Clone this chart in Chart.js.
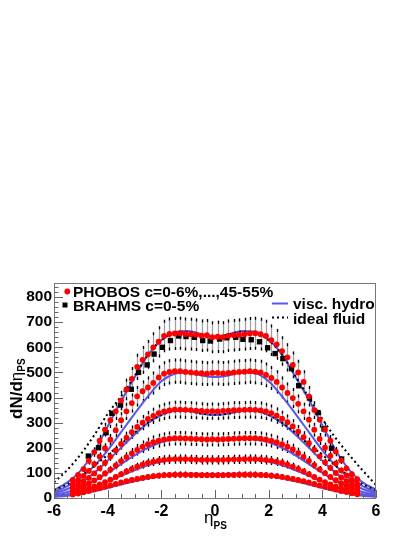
<!DOCTYPE html>
<html>
<head>
<meta charset="utf-8">
<script src="https://cdn.jsdelivr.net/npm/chart.js@4/dist/chart.umd.min.js"></script>
<style>
  html, body { margin: 0; padding: 0; background: #fff; }
  canvas { display: block; }
</style>
</head>
<body>
<canvas id="chart" width="415" height="537"></canvas>
<script>
// PHOBOS pseudorapidity bins
const etaPhobos = [-5.3,-5.1,-4.9,-4.7,-4.5,-4.3,-4.1,-3.9,-3.7,-3.5,-3.3,-3.1,-2.9,-2.7,-2.5,-2.3,-2.1,-1.9,-1.7,-1.5,-1.3,-1.1,-0.9,-0.7,-0.5,-0.3,-0.1,
                   0.1,0.3,0.5,0.7,0.9,1.1,1.3,1.5,1.7,1.9,2.1,2.3,2.5,2.7,2.9,3.1,3.3,3.5,3.7,3.9,4.1,4.3,4.5,4.7,4.9,5.1,5.3];

const phobos0_6 = [72,92,115,148,183,228,272,310,345,388,432,474,522,550,572,600,622,645,653,655,656,653,652,650,646,648,640,
                   642,640,646,648,650,652,655,656,652,645,628,612,585,560,530,500,462,405,350,312,272,228,185,150,118,95,75];
const phobos6_15 = [56,70,88,108,135,165,198,232,270,310,345,378,405,425,440,458,480,495,502,505,505,502,500,498,497,495,498,
                    498,496,498,500,502,503,505,503,500,490,478,462,440,418,398,375,345,312,272,235,200,168,138,110,90,72,57];
const phobos15_25 = [43,53,66,80,98,118,140,165,190,215,240,262,283,300,315,327,338,345,349,352,352,351,350,348,347,345,346,
                     345,347,348,350,350,351,352,351,349,345,338,328,316,302,285,264,242,218,192,166,142,120,100,82,67,54,44];
const phobos25_35 = [32,39,48,58,70,83,98,113,130,147,163,178,192,204,214,222,228,233,236,238,238,237,236,235,234,233,234,
                     233,234,235,236,237,238,238,238,236,233,228,222,214,204,193,179,164,148,131,114,99,84,71,59,49,40,33];
const phobos35_45 = [21,26,32,39,46,54,63,73,84,95,106,116,125,133,140,145,149,152,154,155,155,155,154,153,152,152,152,
                     152,152,153,154,154,155,155,155,154,152,149,145,140,133,125,116,106,95,84,73,63,54,46,39,32,26,21];
const phobos45_55 = [14,18,23,28,34,39,45,50,56,62,67,72,76,80,84,87,89,91,92,93,93,93,92,92,91,91,91,
                     91,91,92,92,93,93,93,93,92,91,89,87,84,80,76,72,67,62,56,50,45,39,34,28,24,19,15];
// relative systematic error of each centrality class
const phobosErr = [0.10, 0.10, 0.10, 0.12, 0.12, 0.13];

// BRAHMS 0-5%
const etaBrahms = [-4.72,-4.34,-4.06,-3.84,-3.52,-3.12,-2.85,-2.53,-2.27,-1.96,-1.66,-1.35,-1.08,-0.77,-0.46,-0.17,
                   0.17,0.44,0.77,1.04,1.35,1.66,1.96,2.24,2.53,2.85,3.12,3.52,3.84,4.06,4.34,4.72];
const brahms0_5 = [167,200,260,337,370,433,500,530,573,600,627,645,643,640,627,625,
                   633,638,640,632,630,622,598,575,555,515,447,398,340,275,198,155];

// hydro curves
const etaModel = [-6,-5.5,-5,-4.5,-4,-3.5,-3,-2.5,-2,-1.5,-1,-0.5,0,0.5,1,1.5,2,2.5,3,3.5,4,4.5,5,5.5,6];
const visc0_6   = [32,62,110,185,285,385,480,570,628,660,665,652,642,652,665,662,630,572,482,390,290,190,112,62,33];
const visc6_15  = [25,47,80,128,190,262,335,405,465,495,500,488,482,488,500,497,465,405,335,262,190,128,80,47,25];
const visc15_25 = [18,36,62,100,148,200,252,298,330,346,346,335,330,335,346,346,330,298,252,200,148,100,62,36,18];
const visc25_35 = [12,24,42,68,100,135,170,200,222,233,235,232,230,232,235,233,222,200,170,135,100,68,42,24,12];
const visc35_45 = [7,15,27,44,65,88,110,130,144,152,155,153,152,153,155,152,144,130,110,88,65,44,27,15,7];
const visc45_55 = [4,9,17,27,40,54,67,79,89,95,97,96,95,96,97,95,89,79,67,54,40,27,17,9,4];
const ideal0_6   = [62,112,175,250,335,405,485,570,628,658,662,650,640,650,662,658,628,570,485,400,315,238,172,110,52];
const ideal15_25 = [32,55,88,128,172,215,260,300,330,345,346,336,332,336,346,345,330,300,260,215,172,128,88,55,32];

const FONT = '"Liberation Sans", Arial, Helvetica, sans-serif';
const BLUE = 'rgb(88,88,228)';

const pts = (xs, ys) => xs.map((x, i) => ({ x, y: ys[i] }));

const phobosSets = [phobos0_6, phobos6_15, phobos15_25, phobos25_35, phobos35_45, phobos45_55];
const viscSets = [visc0_6, visc6_15, visc15_25, visc25_35, visc35_45, visc45_55];
const idealSets = [ideal0_6, ideal15_25];

const datasets = [];
phobosSets.forEach((ys, i) => datasets.push({
  type: 'scatter', data: pts(etaPhobos, ys), errFrac: phobosErr[i], order: 0,
  pointRadius: 2.9, pointBackgroundColor: '#ff0000', pointBorderWidth: 0
}));
datasets.push({
  type: 'scatter', data: pts(etaBrahms, brahms0_5), order: 0,
  pointStyle: 'rect', pointRadius: 3.8, pointBackgroundColor: '#000', pointBorderWidth: 0
});
viscSets.forEach(ys => datasets.push({
  type: 'line', data: pts(etaModel, ys), order: 2, borderColor: BLUE, borderWidth: 2,
  pointRadius: 0, cubicInterpolationMode: 'monotone', fill: false
}));
idealSets.forEach(ys => datasets.push({
  type: 'line', data: pts(etaModel, ys), order: 1, borderColor: '#000', borderWidth: 2, borderDash: [2, 3],
  pointRadius: 0, cubicInterpolationMode: 'monotone', fill: false
}));

// grey error bars with black ends, behind the markers
const errorBars = {
  id: 'errorBars',
  beforeDatasetsDraw(chart) {
    const { ctx, scales: { x, y } } = chart;
    ctx.save();
    chart.data.datasets.forEach(ds => {
      if (!ds.errFrac) return;
      ds.data.forEach(p => {
        const px = Math.round(x.getPixelForValue(p.x)) + 0.5;
        const top = y.getPixelForValue(p.y * (1 + ds.errFrac));
        const bot = y.getPixelForValue(p.y * (1 - ds.errFrac));
        ctx.lineWidth = 1.3;
        ctx.strokeStyle = '#a0a0a0';
        ctx.beginPath(); ctx.moveTo(px, top); ctx.lineTo(px, bot); ctx.stroke();
        ctx.strokeStyle = '#000';
        ctx.beginPath();
        ctx.moveTo(px, top); ctx.lineTo(px, top + 3);
        ctx.moveTo(px, bot); ctx.lineTo(px, bot - 3);
        ctx.stroke();
      });
    });
    ctx.restore();
  }
};

// ROOT style frame, inner ticks, titles and legend
const decor = {
  id: 'decor',
  afterDraw(chart) {
    const { ctx, chartArea: a, scales: { x, y } } = chart;
    ctx.save();
    ctx.strokeStyle = '#777';
    ctx.lineWidth = 1;
    ctx.strokeRect(a.left + 0.5, a.top + 0.5, a.right - a.left - 1, a.bottom - a.top);
    ctx.strokeStyle = '#666';
    ctx.beginPath();
    x.ticks.forEach(t => {
      const px = Math.round(x.getPixelForValue(t.value)) + 0.5;
      const len = t.value % 2 === 0 ? 8 : 4;
      ctx.moveTo(px, a.bottom); ctx.lineTo(px, a.bottom - len);
    });
    y.ticks.forEach(t => {
      const py = Math.round(y.getPixelForValue(t.value)) + 0.5;
      const len = t.value % 100 === 0 ? 9 : 4.5;
      ctx.moveTo(a.left, py); ctx.lineTo(a.left + len, py);
    });
    ctx.stroke();

    ctx.fillStyle = '#000';
    ctx.textBaseline = 'alphabetic';
    // y title
    ctx.save();
    ctx.translate(22, 419);
    ctx.rotate(-Math.PI / 2);
    ctx.font = 'bold 17px ' + FONT;
    ctx.fillText('dN/d', 0, 0);
    let w = ctx.measureText('dN/d').width;
    ctx.font = '17px ' + FONT;
    ctx.fillText('η', w, 0);
    w += ctx.measureText('η').width;
    ctx.font = 'bold 10px ' + FONT;
    ctx.fillText('PS', w, 3);
    ctx.restore();
    // x title
    ctx.font = '17px ' + FONT;
    ctx.fillText('η', 204, 523);
    ctx.font = 'bold 10px ' + FONT;
    ctx.fillText('PS', 213.5, 529);

    // legend
    ctx.font = 'bold 15.5px ' + FONT;
    ctx.fillText('PHOBOS c=0-6%,...,45-55%', 73, 297);
    ctx.fillText('BRAHMS c=0-5%', 73, 311);
    ctx.fillText('visc. hydro', 293, 309);
    ctx.fillText('ideal fluid', 293, 323.5);
    ctx.fillStyle = '#ff0000';
    ctx.beginPath(); ctx.arc(67.3, 291.5, 2.9, 0, Math.PI * 2); ctx.fill();
    ctx.fillStyle = '#000';
    ctx.fillRect(62.5, 302.5, 5, 5);
    ctx.strokeStyle = BLUE; ctx.lineWidth = 2;
    ctx.beginPath(); ctx.moveTo(272, 303.5); ctx.lineTo(288, 303.5); ctx.stroke();
    ctx.strokeStyle = '#000'; ctx.setLineDash([2, 3]);
    ctx.beginPath(); ctx.moveTo(272, 317.5); ctx.lineTo(288, 317.5); ctx.stroke();
    ctx.restore();
  }
};

const noGrid = { display: false, drawTicks: false, tickLength: 0 };

new Chart(document.getElementById('chart').getContext('2d'), {
  type: 'scatter',
  data: { datasets },
  options: {
    responsive: false,
    animation: false,
    events: [],
    layout: { padding: { top: 283, right: 39, left: 0, bottom: 0 } },
    plugins: { legend: { display: false }, tooltip: { enabled: false } },
    scales: {
      x: {
        type: 'linear', min: -6, max: 6,
        afterFit(s) { s.height = 39; },
        grid: noGrid, border: { display: false },
        ticks: {
          stepSize: 0.5, autoSkip: false, maxRotation: 0, includeBounds: false, padding: 4,
          color: '#000', font: { family: FONT, size: 16, weight: 'bold' },
          callback: v => (v % 2 === 0 ? String(v) : '')
        }
      },
      y: {
        type: 'linear', min: 0, max: 856,
        afterFit(s) { s.width = 54; },
        grid: noGrid, border: { display: false },
        ticks: {
          stepSize: 20, autoSkip: false, includeBounds: false, padding: 2,
          color: '#000', font: { family: FONT, size: 15.5, weight: 'bold' },
          callback: v => (v % 100 === 0 ? String(v) : '')
        }
      }
    }
  },
  plugins: [errorBars, decor]
});
</script>
</body>
</html>
